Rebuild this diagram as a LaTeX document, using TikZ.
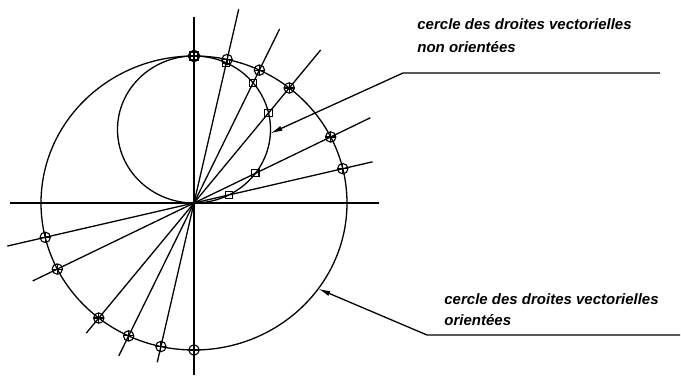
\documentclass[tikz,border=0pt]{standalone}
\usepackage{fontspec}
\usepackage{tikz}
\usetikzlibrary{arrows.meta, calc}
\newfontfamily\lblfont{Liberation Sans}
\tikzset{
    omark/.style={
        circle, draw, line width=0.55pt,
        inner sep=0pt, minimum size=5.2pt,
        path picture={
            \draw[line width=0.55pt] (path picture bounding box.north) -- (path picture bounding box.south)
                (path picture bounding box.west) -- (path picture bounding box.east);
        }
    },
    smark/.style={rectangle, draw, line width=0.55pt, inner sep=0pt, minimum size=3.6pt},
    lbl/.style={font=\fontsize{7.5pt}{9pt}\selectfont\lblfont\bfseries\itshape, inner sep=0pt},
    leader/.style={line width=0.65pt, -{Latex[length=6pt, width=2.6pt]}}
}

\begin{document}
\begin{tikzpicture}[x=0.5pt, y=0.5pt]
    \useasboundingbox (0,0) rectangle (681,377);

    % Figure : the two circles and the lines through O
    \begin{scope}[shift={(194,174)}, x=76.5pt, y=73.5pt, line width=0.65pt]
        \coordinate (O) at (0,0);
        \draw (O) circle[radius=1];
        \draw (0,0.5) circle[radius=0.5];
        % axes
        \draw (-1.2,0) -- (1.21,0);
        \draw (0,-1.17) -- (0,1.265);
        % lines through O, with their marks
        \foreach \a/\u/\d [count=\i] in {13.5/1.20/1.255, 26.7/1.29/1.18, 51.5/1.33/1.13, 64.7/1.31/1.15, 77.5/1.35/1.11} {
            \coordinate (up\i) at (\a:\u);
            \coordinate (dn\i) at (180+\a:\d);
            \draw (up\i) -- (dn\i);
            \node[omark] (cu\i) at (\a:1) {};
            \node[omark] (cd\i) at (180+\a:1) {};
            \node[smark] (sq\i) at (\a:{sin(\a)}) {};
        }
        \node[omark, line width=1pt] (ctop) at (90:1) {};
        \node[omark] (cbot) at (270:1) {};
        \node[smark, line width=1pt] (sqtop) at (90:1) {};
        % arrow tips
        \coordinate (tipA) at ($(0,0.5)+(-3:0.5)$);
        \coordinate (tipB) at (-35.7:1);
    \end{scope}

    % Label 1 : non orientées
    \node[lbl, anchor=base west] (labA1) at (417,348) {cercle des droites vectorielles};
    \node[lbl, anchor=base west] (labA2) at (417,325) {non orientées};
    \coordinate (legA) at (660,304);
    \coordinate (kneeA) at (403,304);
    \draw[leader] (legA) -- (kneeA) -- (tipA);

    % Label 2 : orientées
    \node[lbl, anchor=base west] (labB1) at (444,73) {cercle des droites vectorielles};
    \node[lbl, anchor=base west] (labB2) at (444,52) {orientées};
    \coordinate (legB) at (680,42);
    \coordinate (kneeB) at (427,42);
    \draw[leader] (legB) -- (kneeB) -- (tipB);
\end{tikzpicture}
\end{document}
